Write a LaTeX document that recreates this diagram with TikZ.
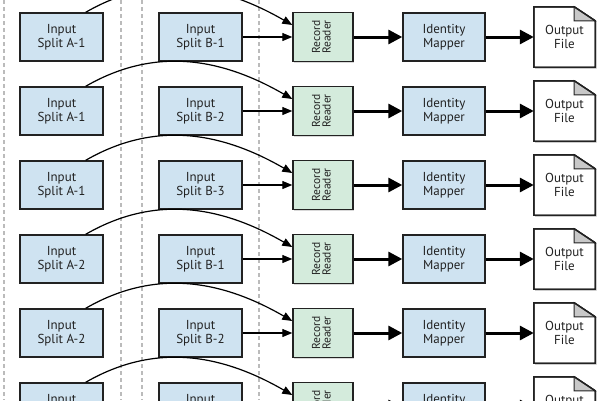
\documentclass[tikz,border=0pt]{standalone}
\usepackage{fontspec}
\setmainfont{PT Sans}
\usetikzlibrary{arrows.meta,shadows,calc}
\definecolor{bluefill}{HTML}{CFE3F1}
\definecolor{greenfill}{HTML}{D4EBDC}
\definecolor{edge}{HTML}{222222}
\definecolor{txt}{HTML}{222222}
\definecolor{sepcol}{HTML}{BBBBBB}
\definecolor{foldcol}{HTML}{C8C8C8}
\begin{document}
\begin{tikzpicture}[x=1pt,y=1pt,
  box/.style={draw=edge, line width=1.4pt, fill=bluefill, text=txt,
    font=\fontsize{13}{14.5}\selectfont, align=center, inner sep=0pt,
    drop shadow={shadow xshift=1.3pt, shadow yshift=-1.3pt, opacity=0.3}},
  splitbox/.style={box, minimum width=83pt, minimum height=48pt},
  rrbox/.style={box, fill=greenfill, minimum width=60pt, minimum height=49pt},
  mapbox/.style={box, minimum width=82pt, minimum height=48pt},
  docnode/.style={minimum width=61pt, minimum height=60pt, inner sep=0pt, text=txt,
    font=\fontsize{13}{14.5}\selectfont, align=center},
  docedge/.style={draw=edge, line width=1.4pt, line join=miter},
  sepline/.style={draw=sepcol, line width=1.5pt, dash pattern=on 4pt off 3pt},
  thinarrow/.style={draw=black, line width=1.2pt, -{Triangle[length=10pt,width=8pt]}},
  bigarrow/.style={draw=black, line width=3pt, -{Triangle[length=14pt,width=14pt]}},
]
\useasboundingbox (0,0) rectangle (600,-400);
\clip (0,0) rectangle (600,-400);
\fill[white] (0,0) rectangle (600,-400);
% separators
\foreach \sx in {4,121,142,259}
  \draw[sepline] (\sx,0) -- (\sx,-400);
\foreach \i/\a/\b in {0/A-1/B-1,1/A-1/B-2,2/A-1/B-3,3/A-2/B-1,4/A-2/B-2,5/A-2/B-3}{
  \pgfmathsetmacro{\cy}{-(37+74*\i)}
  \node[splitbox] (A\i) at (61.5,\cy) {Input\\Split \a};
  \node[splitbox] (B\i) at (200.5,\cy) {Input\\Split \b};
  \node[rrbox] (R\i) at (323,\cy) {\rotatebox{90}{\fontsize{11.5}{12}\selectfont\begin{tabular}{@{}c@{}}Record\\[-1.5pt]Reader\end{tabular}}};
  \node[mapbox] (M\i) at (444,\cy) {Identity\\Mapper};
  \node[docnode] (F\i) at (564.5,\cy) {Output\\File};
  \fill[black,opacity=0.3] ([shift={(1.3pt,-1.3pt)}]F\i.north west) -- ([shift={(-19.7pt,-1.3pt)}]F\i.north east) -- ([shift={(1.3pt,-15.3pt)}]F\i.north east) -- ([shift={(1.3pt,-1.3pt)}]F\i.south east) -- ([shift={(1.3pt,-1.3pt)}]F\i.south west) -- cycle;
  \filldraw[docedge, fill=white] (F\i.north west) -- ([xshift=-21pt]F\i.north east) -- ([yshift=-14pt]F\i.north east) -- (F\i.south east) -- (F\i.south west) -- cycle;
  \node[docnode] at (F\i) {Output\\File};
  \filldraw[docedge, fill=foldcol, line width=1pt] ([xshift=-21pt]F\i.north east) -- ([xshift=-21pt,yshift=-14pt]F\i.north east) -- ([yshift=-14pt]F\i.north east) -- cycle;
  \draw[docedge] (F\i.north west) -- ([xshift=-21pt]F\i.north east) -- ([yshift=-14pt]F\i.north east) -- (F\i.south east) -- (F\i.south west) -- cycle;
  \draw[thinarrow] (B\i) -- (R\i);
  \draw[thinarrow] ([xshift=-18pt]A\i.north east) to[out=30,in=150] ([yshift=12pt]R\i.west);
  \draw[bigarrow] (R\i) -- (M\i);
  \draw[bigarrow] (M\i) -- (F\i);
}
\end{tikzpicture}
\end{document}
